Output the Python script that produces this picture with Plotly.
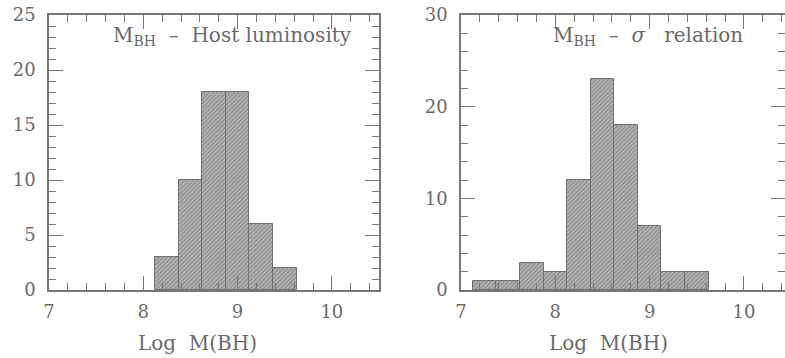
import plotly.graph_objects as go

# Data
bin_centers_left = [8.25, 8.5, 8.75, 9.0, 9.25, 9.5]
counts_left = [3, 10, 18, 18, 6, 2]
bin_centers_right = [7.25, 7.5, 7.75, 8.0, 8.25, 8.5, 8.75, 9.0, 9.25, 9.5]
counts_right = [1, 1, 3, 2, 12, 23, 18, 7, 2, 2]
bin_width = 0.25
title_left = "M<sub>BH</sub>  –  Host luminosity"
title_right = "M<sub>BH</sub>  –  <i>σ</i>   relation"
x_title = "Log  M(BH)"

W, H = 785, 358
FONT = "DejaVu Serif"
TXT = "#6a6a6a"
LINE = "#777777"

fig = go.Figure()

def add_hist(x, y, xa, ya):
    fig.add_trace(go.Bar(
        x=x, y=y, width=bin_width, xaxis=xa, yaxis=ya,
        marker=dict(color="#a8a8a8",
                    line=dict(color="#6f6f6f", width=1),
                    pattern=dict(shape="/", fgcolor="#666666", bgcolor="#b4b4b4",
                                 size=3, solidity=0.45)),
        showlegend=False, hoverinfo="x+y"))

add_hist(bin_centers_left, counts_left, "x", "y")
add_hist(bin_centers_right, counts_right, "x2", "y2")

# invisible traces so the top/right tick axes get drawn
for xa, ya, xs, ys in [("x3", "y3", bin_centers_left, counts_left),
                       ("x4", "y4", bin_centers_right, counts_right)]:
    fig.add_trace(go.Scatter(x=xs[:1], y=ys[:1], xaxis=xa, yaxis=ya, mode="markers",
                             marker=dict(opacity=0), showlegend=False, hoverinfo="skip"))

y_dom = [(H - 290) / H, (H - 15) / H]
xl_dom = [49 / W, 379 / W]
xr_dom = [461 / W, 1.0]
xl_rng = [7, 10.5]
xr_rng = [7, 7 + (785 - 461) / 94.3]

TICKS = dict(ticks="inside", ticklen=14, tickwidth=1, tickcolor=LINE,
             showgrid=False, zeroline=False, automargin=False, fixedrange=True)

def xaxis(domain, rng, anchor, labels=True, side="bottom", overlay=None):
    d = dict(domain=domain, range=rng, anchor=anchor, side=side,
             tickvals=[7, 8, 9, 10],
             showline=True, linecolor=LINE, linewidth=1.5,
             minor=dict(dtick=0.2, ticks="inside", ticklen=7, tickcolor=LINE, tickwidth=1, showgrid=False),
             showticklabels=labels, **TICKS)
    if labels:
        d.update(tickfont=dict(family=FONT, size=18, color=TXT), ticklabelstandoff=5)
    if overlay:
        d["overlaying"] = overlay
    return d

def yaxis(domain, rng, dtick, minor, anchor, labels=True, side="left", overlay=None):
    d = dict(domain=domain, range=rng, anchor=anchor, side=side, dtick=dtick,
             showline=True, linecolor=LINE, linewidth=1.5,
             minor=dict(dtick=minor, ticks="inside", ticklen=7, tickcolor=LINE, tickwidth=1, showgrid=False),
             showticklabels=labels, **TICKS)
    if labels:
        d.update(tickfont=dict(family=FONT, size=18, color=TXT), ticklabelstandoff=8)
    if overlay:
        d["overlaying"] = overlay
    return d

ann_font = dict(family=FONT, size=20, color=TXT)
fig.update_layout(
    width=W, height=H,
    margin=dict(l=0, r=0, t=0, b=0),
    paper_bgcolor="white", plot_bgcolor="white",
    bargap=0,
    xaxis=xaxis(xl_dom, xl_rng, "y"),
    yaxis=yaxis(y_dom, [0, 25], 5, 1, "x"),
    xaxis2=xaxis(xr_dom, xr_rng, "y2"),
    yaxis2=yaxis(y_dom, [0, 30], 10, 2, "x2"),
    xaxis3=xaxis(xl_dom, xl_rng, "y3", labels=False, side="top", overlay="x"),
    yaxis3=yaxis(y_dom, [0, 25], 5, 1, "x3", labels=False, side="right", overlay="y"),
    xaxis4=xaxis(xr_dom, xr_rng, "y4", labels=False, side="top", overlay="x2"),
    yaxis4=yaxis(y_dom, [0, 30], 10, 2, "x4", labels=False, side="right", overlay="y2"),
    annotations=[
        dict(text=title_left, x=232 / W, y=1 - 36 / H, xref="paper", yref="paper",
             xanchor="center", yanchor="middle", showarrow=False, font=ann_font),
        dict(text=title_right, x=648 / W, y=1 - 36 / H, xref="paper", yref="paper",
             xanchor="center", yanchor="middle", showarrow=False, font=ann_font),
        dict(text=x_title, x=197 / W, y=1 - 343 / H, xref="paper", yref="paper",
             xanchor="center", yanchor="middle", showarrow=False, font=ann_font),
        dict(text=x_title, x=608 / W, y=1 - 343 / H, xref="paper", yref="paper",
             xanchor="center", yanchor="middle", showarrow=False, font=ann_font),
    ],
)

fig.write_html("out.html")
